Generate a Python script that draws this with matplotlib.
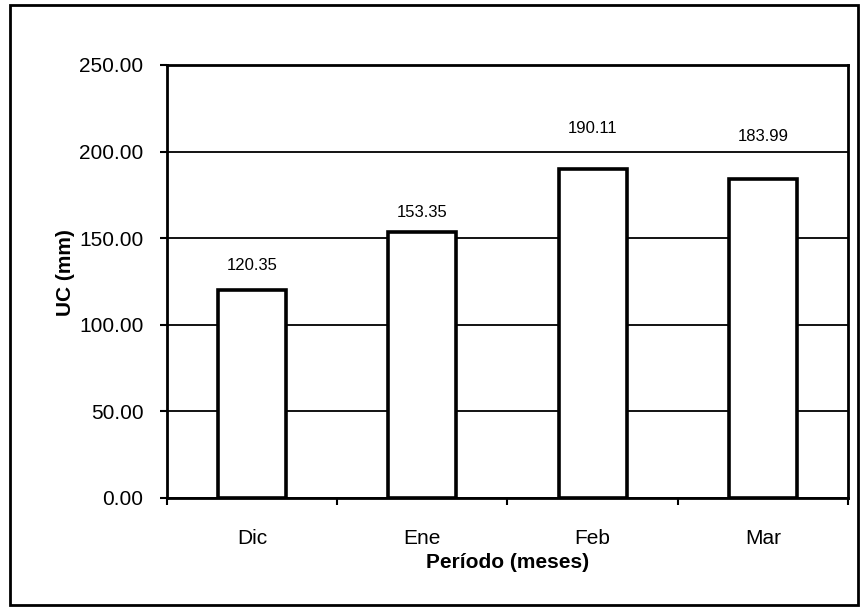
#!/usr/bin/env python3

import numpy as np
import matplotlib.pyplot as plt
from matplotlib.patches import Rectangle

meses = ['Dic', 'Ene', 'Feb', 'Mar']
uc_mm = [120.35, 153.35, 190.11, 183.99]
etiquetas = ['120.35', '153.35', '190.11', '183.99']
# offset of each value label above its bar, in points (as placed in the original)
label_offsets = [17, 14, 29, 31]


def main():
	plt.rcParams['font.family'] = ['Liberation Sans', 'DejaVu Sans']
	fig = plt.figure(figsize=(8.67, 6.12), dpi=100)
	ax = fig.add_axes([0.1926, 0.1863, 0.7855, 0.7075])

	x = np.arange(len(meses))
	ax.set_axisbelow(True)
	ax.yaxis.grid(True, color='black', linewidth=1.3)
	ax.bar(x, uc_mm, width=0.4, color='white', edgecolor='black', linewidth=2.6, zorder=3)

	for xi, v, txt, off in zip(x, uc_mm, etiquetas, label_offsets):
		ax.annotate(txt, (xi, v), xytext=(0, off), textcoords='offset points',
			ha='center', va='center', fontsize=12)

	ax.set_xlim(-0.5, len(meses) - 0.5)
	ax.set_ylim(0, 250)
	ax.set_yticks(np.arange(0, 251, 50))
	ax.set_yticklabels(['%.2f' % t for t in np.arange(0, 251, 50)], fontsize=15)
	ax.set_xticks(np.arange(-0.5, len(meses), 1.0))
	ax.set_xticklabels([])
	ax.set_xticks(x, minor=True)
	ax.set_xticklabels(meses, minor=True, fontsize=15)
	ax.tick_params(axis='x', which='minor', length=0, pad=22)
	ax.tick_params(axis='x', which='major', length=5, width=1.5, direction='out')
	ax.tick_params(axis='y', length=5, width=1.5, direction='out', pad=12)

	for s in ax.spines.values():
		s.set_linewidth(2)

	ax.set_xlabel('Período (meses)', fontsize=15, fontweight='bold', labelpad=4)
	ax.set_ylabel('UC (mm)', fontsize=15, fontweight='bold')
	ax.yaxis.set_label_coords(-0.135, 0.52)

	fig.patches.append(Rectangle((10 / 867, 1 - 605 / 612), 848 / 867, 600 / 612,
		transform=fig.transFigure, fill=False, edgecolor='black', linewidth=2))

	fig.savefig('out.png', dpi=100)


if __name__ == "__main__":
	main()
